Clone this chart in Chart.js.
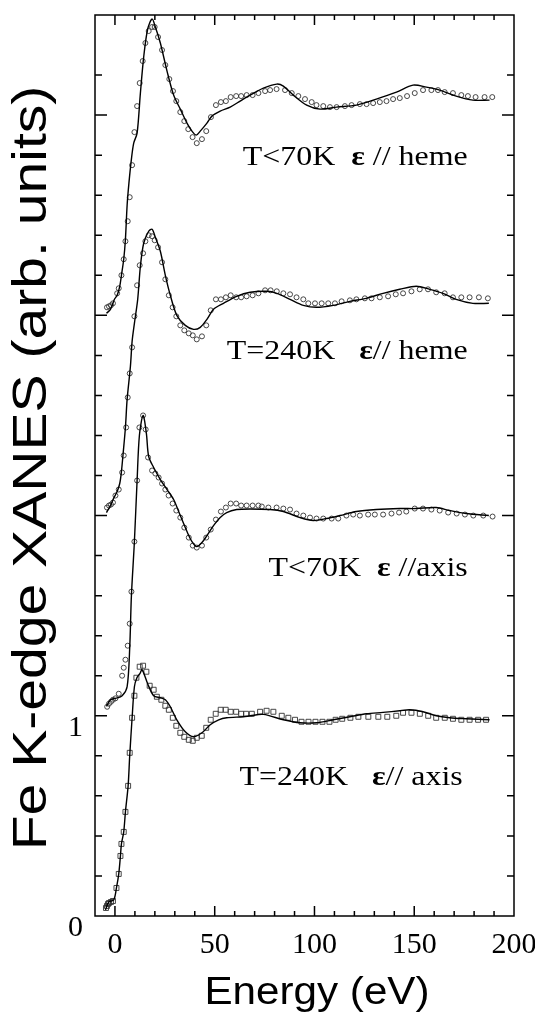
<!DOCTYPE html>
<html>
<head>
<meta charset="utf-8">
<script src="https://cdn.jsdelivr.net/npm/chart.js@4.4.1/dist/chart.umd.min.js"></script>
<style>
  html, body { margin: 0; padding: 0; background: #fff; }
  #wrap { width: 535px; height: 1018px; position: relative; }
</style>
</head>
<body>
<div id="wrap"><canvas id="xanesChart"></canvas></div>
<script>
// --- T<70K, e // heme (offset +3) ---
const fitHeme70E = [-4.25, -2.25, -0.25, 1.1, 2.4, 3.25, 4.4, 5.25, 6.1, 7.0, 8.25, 9.4, 11.1, 12.75, 14.4, 16.4, 18.6, 20.25, 22.75, 26.1, 29.4, 32.75, 36.1, 38.6, 40.75, 42.75, 46.1, 48.6, 52.75, 57.75, 62.75, 67.75, 74.4, 81.1, 84.4, 89.4, 96.1, 102.75, 111.1, 121, 131, 141.1, 149.4, 156.1, 162.75, 171, 179.4, 187.75];
const fitHeme70Mu = [3.01, 3.03, 3.08, 3.10, 3.145, 3.20, 3.28, 3.38, 3.55, 3.66, 3.78, 3.86, 3.91, 4.11, 4.29, 4.43, 4.48, 4.44, 4.36, 4.22, 4.10, 4.03, 3.96, 3.92, 3.90, 3.92, 3.96, 3.995, 4.02, 4.04, 4.07, 4.10, 4.135, 4.155, 4.145, 4.10, 4.05, 4.03, 4.04, 4.05, 4.08, 4.115, 4.15, 4.14, 4.125, 4.095, 4.075, 4.075];
const expHeme70E = [-4, -3, -2, -1, 1.1, 1.9, 3.25, 4.4, 5.25, 6.4, 7.4, 8.6, 9.75, 11.1, 12.4, 13.9, 15.25, 16.9, 18.6, 19.9, 21.6, 23.6, 25.25, 27.25, 29.1, 30.75, 32.75, 34.75, 36.75, 38.9, 41, 43.6, 45.75, 48.1, 50.6, 53.1, 55.6, 58, 60.75, 63.25, 66, 69, 71.9, 75.25, 77.75, 81, 85.25, 88.6, 91.9, 95.25, 98.6, 101, 104.4, 107.75, 111.1, 115.25, 118.6, 122.75, 126.1, 129.4, 132.75, 136.1, 139.4, 142.75, 146.4, 150.25, 154.4, 158.6, 161.9, 165.25, 169.4, 173.6, 176.9, 180.75, 185.25, 189.1];
const expHeme70Mu = [3.04, 3.045, 3.05, 3.06, 3.11, 3.135, 3.20, 3.28, 3.37, 3.47, 3.59, 3.75, 3.915, 4.045, 4.16, 4.27, 4.36, 4.42, 4.44, 4.44, 4.39, 4.325, 4.25, 4.18, 4.12, 4.07, 4.015, 3.97, 3.93, 3.89, 3.86, 3.88, 3.92, 3.99, 4.05, 4.065, 4.07, 4.09, 4.095, 4.095, 4.10, 4.10, 4.11, 4.12, 4.125, 4.13, 4.125, 4.11, 4.095, 4.08, 4.065, 4.05, 4.045, 4.04, 4.04, 4.045, 4.05, 4.055, 4.055, 4.06, 4.065, 4.07, 4.08, 4.085, 4.095, 4.11, 4.125, 4.125, 4.125, 4.115, 4.11, 4.10, 4.095, 4.09, 4.09, 4.09];

// --- T=240K, e // heme (offset +2) ---
const fitHeme240E = [-4.25, -2.25, -0.6, 1.1, 2.4, 3.25, 4.1, 5.25, 6.1, 7.75, 8.6, 9.75, 11.4, 12.75, 14.4, 16.9, 18.6, 20.25, 22.75, 25.25, 27.75, 31, 35.25, 39.4, 42.75, 46.1, 49.4, 54.4, 61, 67.75, 76.1, 81.1, 87.75, 94.4, 101, 109.4, 117.75, 126, 134.4, 142.75, 151, 157.75, 164.4, 171, 179.4, 187.4];
const fitHeme240Mu = [2.015, 2.05, 2.087, 2.12, 2.16, 2.22, 2.31, 2.44, 2.58, 2.745, 2.87, 2.96, 3.08, 3.245, 3.36, 3.42, 3.43, 3.39, 3.32, 3.20, 3.10, 3.00, 2.95, 2.93, 2.94, 2.98, 3.03, 3.06, 3.095, 3.115, 3.12, 3.11, 3.08, 3.05, 3.04, 3.05, 3.07, 3.085, 3.11, 3.13, 3.145, 3.13, 3.11, 3.08, 3.06, 3.06];
const expHeme240E = [-4, -3, -2, -1, 0.25, 1.9, 3.6, 4.4, 5.6, 6.4, 7.4, 8.6, 9.75, 11.1, 12.4, 14.1, 15.25, 16.9, 18.6, 19.9, 21.6, 23.6, 25.25, 27, 28.9, 30.75, 32.75, 34.75, 37, 39, 41, 43.6, 45.75, 48, 50.6, 53.1, 55.6, 58, 60.75, 63.25, 66, 69, 71.9, 75.25, 78, 81.1, 84.4, 87.75, 91, 94.4, 96.9, 100.25, 103.6, 106.9, 110.25, 113.6, 117.75, 121, 125.25, 128.6, 132.75, 136.9, 140.75, 144.4, 148.6, 152.75, 156.9, 161, 165.25, 169.4, 173.6, 177.75, 182.4, 186.9];
const expHeme240Mu = [2.04, 2.05, 2.055, 2.065, 2.10, 2.13, 2.215, 2.30, 2.44, 2.59, 2.71, 2.84, 2.995, 3.15, 3.25, 3.31, 3.37, 3.40, 3.395, 3.375, 3.34, 3.265, 3.18, 3.10, 3.04, 2.995, 2.95, 2.925, 2.91, 2.90, 2.88, 2.895, 2.95, 3.025, 3.08, 3.08, 3.09, 3.10, 3.09, 3.09, 3.095, 3.10, 3.11, 3.125, 3.125, 3.12, 3.11, 3.105, 3.09, 3.08, 3.06, 3.06, 3.06, 3.06, 3.06, 3.07, 3.075, 3.08, 3.085, 3.085, 3.09, 3.095, 3.105, 3.11, 3.12, 3.13, 3.13, 3.115, 3.11, 3.09, 3.09, 3.09, 3.09, 3.085];

// --- T<70K, e // axis (offset +1) ---
const fitAxis70E = [-4.25, -2.25, 0.25, 3.6, 6.1, 7.4, 8.25, 9.75, 11.1, 12.25, 14.1, 15.75, 16.9, 19.4, 22.75, 26.1, 29.4, 32.75, 36.1, 38.6, 41, 43.6, 46.1, 49.4, 52.75, 56, 61, 67.75, 77.75, 84.4, 92.75, 99.4, 106, 112.75, 121, 131, 142.75, 151, 161, 167.75, 176, 187.4];
const fitAxis70Mu = [1.047, 1.08, 1.087, 1.10, 1.145, 1.34, 1.60, 1.87, 2.175, 2.40, 2.50, 2.41, 2.295, 2.24, 2.18, 2.13, 2.08, 2.00, 1.92, 1.87, 1.845, 1.865, 1.90, 1.95, 1.99, 2.015, 2.03, 2.033, 2.03, 2.02, 1.99, 1.975, 1.985, 2.0, 2.02, 2.03, 2.035, 2.035, 2.04, 2.025, 2.01, 2.0];
const expAxis70E = [-3.9, -3, -2, -1, 0.25, 1.9, 3.6, 4.4, 5.25, 6.4, 7.4, 8.25, 9.75, 11.1, 12.25, 14.1, 15.4, 16.6, 18.6, 20.25, 21.9, 23.6, 25.25, 26.9, 28.9, 30.75, 32.75, 34.75, 37, 39, 41, 43.6, 45.75, 48, 50.6, 53.1, 55.6, 58, 60.75, 63.25, 66, 69, 71.9, 73.6, 76.9, 81, 84.4, 87.75, 91, 94.4, 97.75, 101, 104.4, 108.6, 111.9, 116, 119.4, 122.75, 126.9, 130.25, 134.4, 138.6, 142.4, 146, 150.25, 154.4, 158.6, 162.75, 167, 171.25, 175.4, 179.6, 184.6, 189.25];
const expAxis70Mu = [1.045, 1.06, 1.07, 1.08, 1.087, 1.11, 1.20, 1.24, 1.28, 1.35, 1.46, 1.62, 1.87, 2.175, 2.44, 2.50, 2.43, 2.29, 2.225, 2.21, 2.19, 2.16, 2.13, 2.10, 2.06, 2.025, 1.99, 1.94, 1.89, 1.85, 1.84, 1.85, 1.89, 1.93, 1.98, 2.02, 2.04, 2.06, 2.06, 2.05, 2.05, 2.05, 2.05, 2.045, 2.04, 2.04, 2.035, 2.03, 2.01, 2.0, 1.99, 1.985, 1.985, 1.985, 1.985, 2.0, 2.005, 2.0, 2.005, 2.005, 2.005, 2.01, 2.015, 2.02, 2.035, 2.035, 2.03, 2.025, 2.015, 2.01, 2.005, 2.0, 2.0, 1.995];

// --- T=240K, e // axis (no offset) ---
const fitAxis240E = [-4.75, -3.1, -0.6, 0.75, 1.9, 2.75, 3.25, 4.4, 5.25, 6.6, 7.4, 8.6, 9.75, 11, 12.5, 13.6, 16.4, 19.4, 22.75, 25.25, 27.75, 31, 35.25, 39.4, 43.6, 47.75, 52, 56, 64.4, 67.75, 74.4, 84.4, 92.75, 101, 109.4, 117.75, 126, 134.4, 142.75, 147.75, 154.4, 161, 167.75, 176, 187.75];
const fitAxis240Mu = [0.03, 0.07, 0.08, 0.14, 0.21, 0.30, 0.36, 0.42, 0.52, 0.65, 0.80, 0.99, 1.145, 1.19, 1.21, 1.23, 1.16, 1.10, 1.09, 1.08, 1.045, 0.98, 0.92, 0.895, 0.915, 0.955, 0.98, 0.99, 0.995, 1.0, 1.007, 0.98, 0.965, 0.965, 0.98, 0.995, 1.01, 1.017, 1.025, 1.03, 1.02, 1.0, 0.99, 0.985, 0.98];
const expAxis240E = [-4.5, -4, -3.5, -3, -2, -1, 0.75, 1.9, 2.75, 3.25, 4.4, 5.25, 6.6, 7.4, 8.6, 9.75, 10.75, 12.4, 14.1, 15.75, 17.4, 19.4, 21, 23.25, 25.25, 27, 29, 30.75, 32.75, 34.75, 37, 39, 41, 43.5, 45.75, 48, 50.5, 53, 55.5, 58, 60.75, 63.25, 65.75, 68.6, 72.75, 76, 79.4, 83.6, 86.9, 90.25, 93.5, 97, 100.5, 104, 107.5, 110.6, 113.9, 118, 122, 127, 132, 136.5, 141, 144.4, 148.6, 152.8, 157, 161, 165.3, 169.4, 173.6, 177.75, 182, 186];
const expAxis240Mu = [0.04, 0.05, 0.06, 0.065, 0.07, 0.075, 0.14, 0.21, 0.30, 0.36, 0.42, 0.52, 0.65, 0.815, 0.99, 1.10, 1.19, 1.245, 1.25, 1.22, 1.15, 1.13, 1.095, 1.08, 1.05, 1.03, 0.99, 0.95, 0.915, 0.895, 0.88, 0.875, 0.89, 0.90, 0.94, 0.98, 1.01, 1.03, 1.03, 1.02, 1.02, 1.01, 1.01, 1.01, 1.02, 1.025, 1.02, 1.0, 0.99, 0.98, 0.97, 0.97, 0.97, 0.97, 0.97, 0.98, 0.985, 0.99, 0.995, 0.995, 0.995, 0.995, 1.0, 1.015, 1.015, 1.01, 1.0, 0.99, 0.99, 0.985, 0.98, 0.98, 0.98, 0.98];

// panel labels
const labelTemp = ['T<70K  ', 'T=240K   ', 'T<70K  ', 'T=240K   '];
const labelPol = [' // heme', '// heme', ' //axis', '// axis'];
const labelRightE = [176.8, 176.8, 176.8, 174.3];
const labelBaseMu = [3.75, 2.78, 1.70, 0.655];

const xTitle = 'Energy (eV)';
const yTitle = 'Fe K-edge XANES (arb. units)';
const xLabelled = [0, 50, 100, 150, 200];
const yLabelled = [0, 1];

const serif = '"Liberation Serif", "Times New Roman", serif';
const sans = '"Liberation Sans", Arial, sans-serif';

function pts(xs, ys) {
    return xs.map((x, i) => ({ x: x, y: ys[i] }));
}

function fitSet(xs, ys) {
    return {
        data: pts(xs, ys),
        showLine: true,
        borderColor: '#000',
        borderWidth: 1.4,
        pointRadius: 0,
        tension: 0.3,
        order: 1
    };
}

function expSet(xs, ys, style) {
    return {
        data: pts(xs, ys),
        showLine: false,
        pointStyle: style,
        pointRadius: style === 'rect' ? 3.5 : 2.5,
        pointBorderColor: '#333',
        pointBorderWidth: 0.9,
        pointBackgroundColor: 'rgba(255,255,255,0)',
        order: 2
    };
}

// no extra room for overhanging tick labels: layout padding alone sets the plot box
function noOverhang(scale) {
    scale.paddingLeft = 0;
    scale.paddingRight = 0;
    scale.paddingTop = 0;
    scale.paddingBottom = 0;
}

// inward ticks and the closed frame
const frameTicks = {
    id: 'frameTicks',
    afterDraw(chart) {
        const { ctx, chartArea: a, scales: { x, y } } = chart;
        ctx.save();
        ctx.strokeStyle = '#000';
        ctx.lineWidth = 1.5;
        ctx.strokeRect(a.left, a.top, a.right - a.left, a.bottom - a.top);
        ctx.beginPath();
        x.ticks.forEach(t => {
            const px = x.getPixelForValue(t.value);
            if (px <= a.left + 1 || px >= a.right - 1) return;
            const len = Math.abs(t.value % 50) < 1e-6 ? 10 : 5;
            ctx.moveTo(px, a.bottom); ctx.lineTo(px, a.bottom - len);
            ctx.moveTo(px, a.top); ctx.lineTo(px, a.top + len);
        });
        y.ticks.forEach(t => {
            const py = y.getPixelForValue(t.value);
            if (py <= a.top + 1 || py >= a.bottom - 1) return;
            const len = Math.abs(t.value - Math.round(t.value)) < 1e-6 ? 12 : 7;
            ctx.moveTo(a.left, py); ctx.lineTo(a.left + len, py);
            ctx.moveTo(a.right, py); ctx.lineTo(a.right - len, py);
        });
        ctx.stroke();
        ctx.restore();
    }
};

// axis titles and the four panel labels
const textLayer = {
    id: 'textLayer',
    afterDraw(chart) {
        const { ctx, scales: { x, y } } = chart;
        ctx.save();
        ctx.fillStyle = '#000';

        ctx.font = '38px ' + sans;
        ctx.textAlign = 'center';
        ctx.textBaseline = 'alphabetic';
        ctx.save();
        ctx.translate(317, 1004);
        ctx.scale(1.11, 1);
        ctx.fillText(xTitle, 0, 0);
        ctx.restore();

        ctx.save();
        ctx.font = '49px ' + sans;
        ctx.translate(46, 468);
        ctx.rotate(-Math.PI / 2);
        ctx.scale(1.165, 1);
        ctx.fillText(yTitle, 0, 0);
        ctx.restore();

        const sx = 1.14;
        const normal = '28px ' + serif;
        const bold = 'bold 28px ' + serif;
        ctx.textAlign = 'left';
        labelTemp.forEach((temp, i) => {
            ctx.font = normal;
            const w1 = ctx.measureText(temp).width;
            const w3 = ctx.measureText(labelPol[i]).width;
            ctx.font = bold;
            const w2 = ctx.measureText('\u03b5').width;
            const right = x.getPixelForValue(labelRightE[i]);
            const base = y.getPixelForValue(labelBaseMu[i]);
            ctx.save();
            ctx.translate(right - (w1 + w2 + w3) * sx, base);
            ctx.scale(sx, 1);
            ctx.font = normal;
            ctx.fillText(temp, 0, 0);
            ctx.font = bold;
            ctx.fillText('\u03b5', w1, 0);
            ctx.font = normal;
            ctx.fillText(labelPol[i], w1 + w2, 0);
            ctx.restore();
        });
        ctx.restore();
    }
};

const ctx = document.getElementById('xanesChart').getContext('2d');

new Chart(ctx, {
    type: 'scatter',
    data: {
        datasets: [
            fitSet(fitHeme70E, fitHeme70Mu),
            expSet(expHeme70E, expHeme70Mu, 'circle'),
            fitSet(fitHeme240E, fitHeme240Mu),
            expSet(expHeme240E, expHeme240Mu, 'circle'),
            fitSet(fitAxis70E, fitAxis70Mu),
            expSet(expAxis70E, expAxis70Mu, 'circle'),
            fitSet(fitAxis240E, fitAxis240Mu),
            expSet(expAxis240E, expAxis240Mu, 'rect')
        ]
    },
    options: {
        responsive: true,
        maintainAspectRatio: false,
        animation: false,
        layout: { padding: { top: 15, right: 21, left: 0, bottom: 0 } },
        plugins: {
            legend: { display: false },
            tooltip: { enabled: false }
        },
        scales: {
            x: {
                type: 'linear',
                min: -10,
                max: 200,
                grid: { display: false, drawTicks: false },
                border: { display: false },
                ticks: {
                    stepSize: 10,
                    autoSkip: false,
                    maxRotation: 0,
                    padding: 11,
                    color: '#000',
                    font: { family: serif, size: 30 },
                    callback: v => xLabelled.includes(v) ? String(v) : ''
                },
                afterFit: scale => { scale.height = 102; noOverhang(scale); }
            },
            y: {
                type: 'linear',
                min: 0,
                max: 4.5,
                grid: { display: false, drawTicks: false },
                border: { display: false },
                ticks: {
                    stepSize: 0.2,
                    autoSkip: false,
                    padding: 12,
                    labelOffset: 12,
                    color: '#000',
                    font: { family: serif, size: 30 },
                    callback: v => {
                        const r = Math.round(v);
                        return (Math.abs(v - r) < 1e-6 && yLabelled.includes(r)) ? String(r) : '';
                    }
                },
                afterFit: scale => { scale.width = 95; noOverhang(scale); }
            }
        }
    },
    plugins: [frameTicks, textLayer]
});
</script>
</body>
</html>
